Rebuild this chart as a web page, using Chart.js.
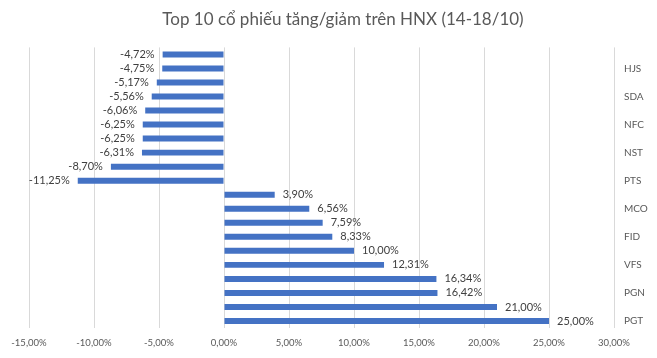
<!DOCTYPE html>
<html>
<head>
<meta charset="utf-8">
<script src="https://cdn.jsdelivr.net/npm/chart.js@4/dist/chart.umd.min.js"></script>
<style>
  html, body { margin: 0; padding: 0; background: #fff; }
  #wrap { width: 657px; height: 358px; position: relative; }
</style>
</head>
<body>
<div id="wrap"><canvas id="c"></canvas></div>
<script>
// Categories from top to bottom (labels shown only for every other bar in the reference)
const categories = ['', 'HJS', '', 'SDA', '', 'NFC', '', 'NST', '', 'PTS',
                    '', 'MCO', '', 'FID', '', 'VFS', '', 'PGN', '', 'PGT'];
const values = [-4.72, -4.75, -5.17, -5.56, -6.06, -6.25, -6.25, -6.31, -8.70, -11.25,
                3.90, 6.56, 7.59, 8.33, 10.00, 12.31, 16.34, 16.42, 21.00, 25.00];
const xTicks = [-15, -10, -5, 0, 5, 10, 15, 20, 25, 30];
const titleText = 'Top 10 cổ phiếu tăng/giảm trên HNX (14-18/10)';

const FONT = 'Lato, "Open Sans", sans-serif';
const fmt = v => v.toFixed(2).replace('.', ',') + '%';

const valueLabels = {
  id: 'valueLabels',
  afterDatasetsDraw(chart) {
    const ctx = chart.ctx;
    const meta = chart.getDatasetMeta(0);
    ctx.save();
    ctx.font = '11px ' + FONT;
    ctx.fillStyle = '#404040';
    ctx.textBaseline = 'middle';
    meta.data.forEach((bar, i) => {
      const v = values[i];
      if (v >= 0) {
        ctx.textAlign = 'left';
        ctx.fillText(fmt(v), bar.x + 8, bar.y);
      } else {
        ctx.textAlign = 'right';
        ctx.fillText(fmt(v), bar.x - 8, bar.y);
      }
    });
    ctx.restore();
  }
};

new Chart(document.getElementById('c'), {
  type: 'bar',
  data: {
    labels: categories,
    datasets: [{
      data: values,
      backgroundColor: '#4472C4',
      borderWidth: 0,
      barPercentage: 0.85,
      categoryPercentage: 0.5
    }]
  },
  options: {
    indexAxis: 'y',
    responsive: true,
    maintainAspectRatio: false,
    animation: false,
    layout: { padding: { left: 29, right: 0, top: 0, bottom: 8 } },
    plugins: {
      legend: { display: false },
      tooltip: { enabled: false },
      title: {
        display: true,
        text: titleText,
        color: '#595959',
        font: { family: FONT, size: 17, weight: 'normal' },
        padding: { top: 9, bottom: 18 }
      }
    },
    scales: {
      x: {
        min: -15,
        max: 30,
        afterBuildTicks(scale) { scale.ticks = xTicks.map(v => ({ value: v })); },
        ticks: {
          callback: v => fmt(v),
          color: '#595959',
          font: { family: FONT, size: 9.5 },
          padding: 9,
          maxRotation: 0
        },
        grid: { color: '#d9d9d9', drawTicks: false, lineWidth: 1 },
        border: { display: false },
        afterFit(scale) { scale.height = 22; }
      },
      y: {
        position: 'right',
        ticks: {
          autoSkip: false,
          color: '#595959',
          font: { family: FONT, size: 10 },
          padding: 10
        },
        grid: { display: false, drawTicks: false },
        border: { display: false },
        afterFit(scale) { scale.width = 43; }
      }
    }
  },
  plugins: [valueLabels]
});
</script>
</body>
</html>
